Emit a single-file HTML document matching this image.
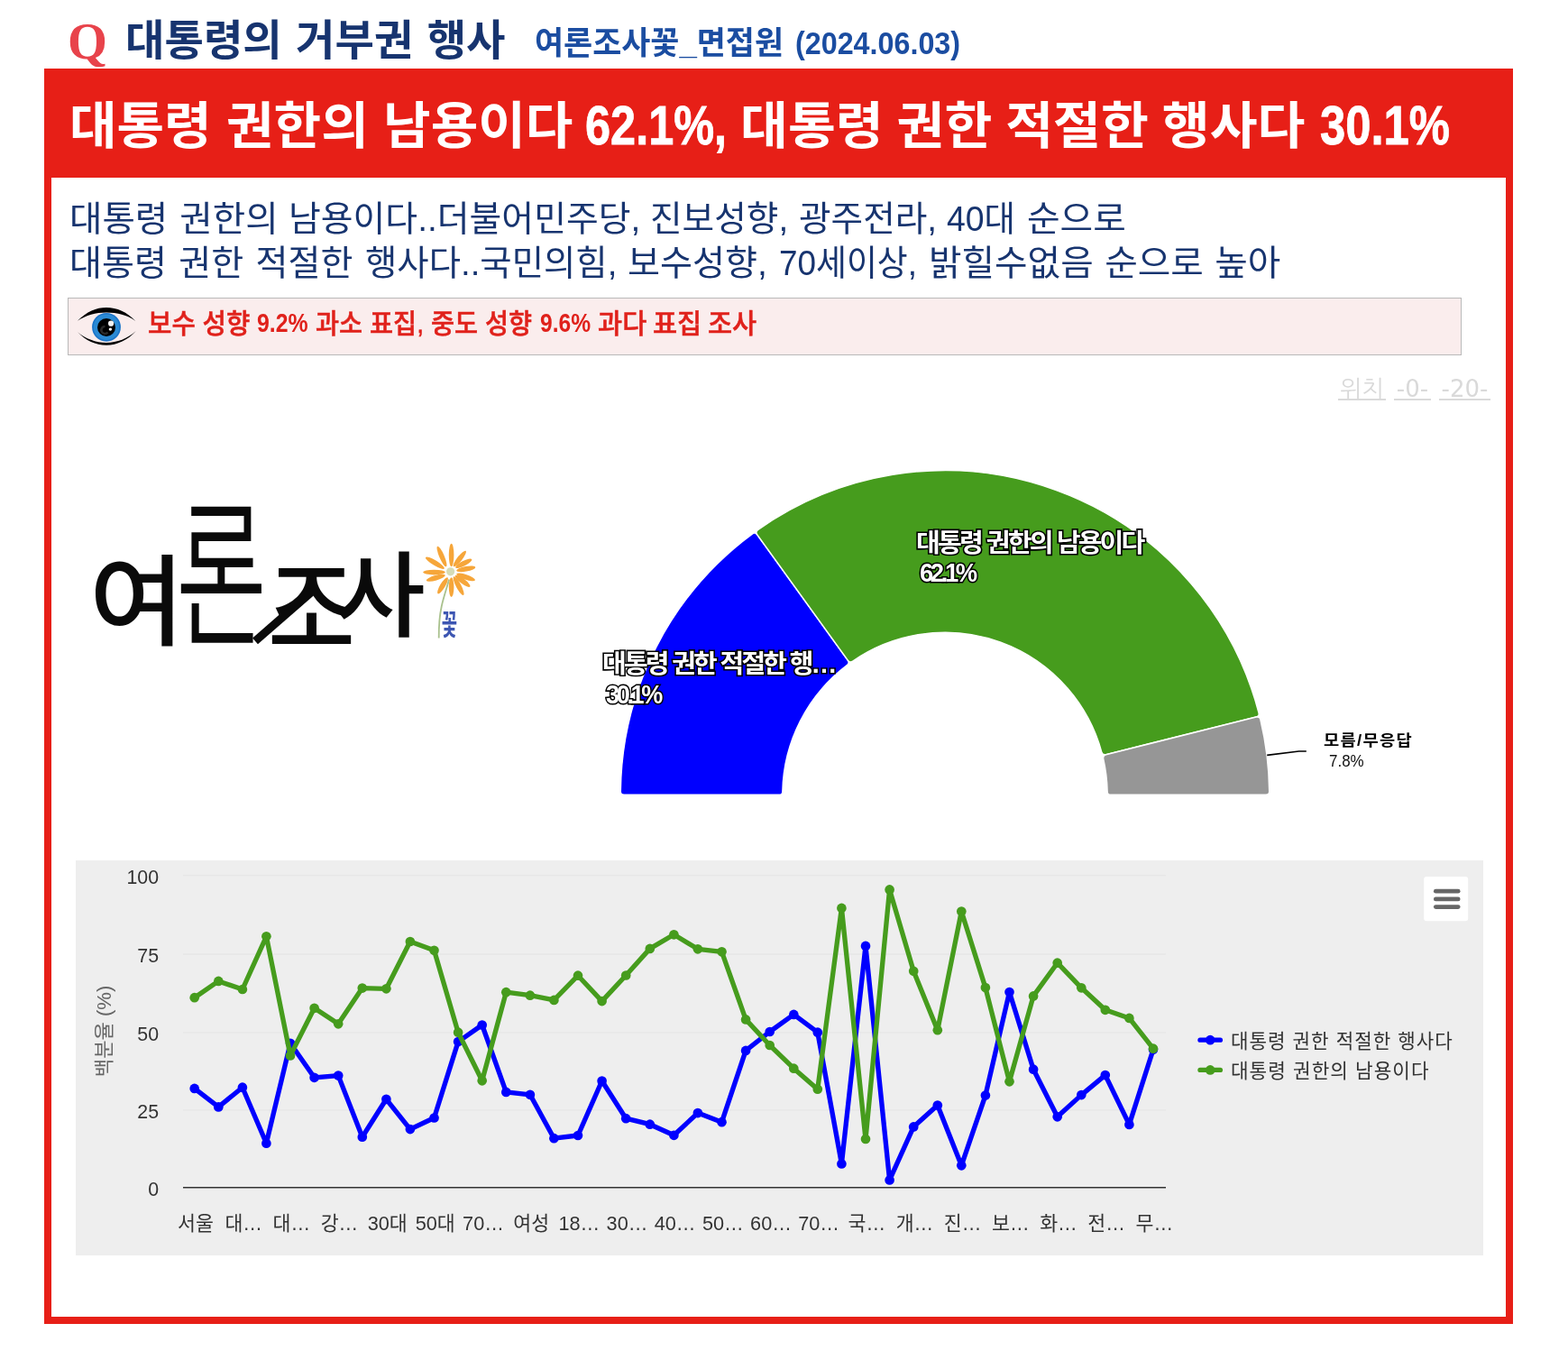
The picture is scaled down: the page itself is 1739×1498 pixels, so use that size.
<!DOCTYPE html>
<html lang="ko">
<head>
<meta charset="utf-8">
<title>대통령의 거부권 행사</title>
<style>
html,body{margin:0;padding:0;background:#fff;}
h1,h2,p,small{margin:0;padding:0;font-size:inherit;font-weight:inherit;}
body{width:1739px;height:1498px;position:relative;overflow:hidden;font-family:"Liberation Sans","Noto Sans CJK KR",sans-serif;}
.t{position:absolute;white-space:nowrap;line-height:1;transform-origin:0 0;display:block;margin:0;}
#box{position:absolute;left:49px;top:76px;width:1613px;height:1376px;border:8px solid #e71f17;background:#fff;}
#head{position:absolute;left:49px;top:76px;width:1629px;height:121px;background:#e71f17;}
#notice{position:absolute;left:75px;top:330px;width:1544px;height:62px;border:1px solid #b9b9b9;background:#faeded;}
.pos{position:absolute;top:414px;height:28px;border-bottom:2px solid #dadada;color:#d9d9d9;font:26px "DejaVu Sans","NanumGothic",sans-serif;line-height:35px;text-align:center;white-space:nowrap;text-decoration:none;}
svg{position:absolute;left:0;top:0;}
.ax{font:21.33px "Liberation Sans","Noto Sans CJK KR",sans-serif;fill:#333;}
.axx{font:21.7px "Liberation Sans","Noto Sans CJK KR",sans-serif;fill:#333;}
.ayt{font:21.7px "Liberation Sans","Noto Sans CJK KR",sans-serif;fill:#666;}
#q{left:75.01px;top:17.00px;font-size:57.50px;font-weight:700;color:#e8434b;font-family:"Liberation Serif",serif;transform:scaleX(0.9829);}
#t1{left:139.23px;top:22.19px;font-size:46.28px;font-weight:700;color:#17346f;transform:scaleX(1.0208);word-spacing:2.09px;}
#s1{left:593.07px;top:31.00px;font-size:35.75px;font-weight:700;color:#1b4da1;transform:scaleX(0.9753);}
#s2{left:882.48px;top:30.70px;font-size:35.60px;font-weight:700;color:#1b4da1;transform:scaleX(0.9074);}
#h1{left:76.69px;top:112.60px;font-size:55.74px;font-weight:700;color:#fff;transform:scaleX(1.0250);word-spacing:0.50px;}
#h2{left:649.34px;top:109.47px;font-size:61.00px;font-weight:700;color:#fff;transform:scaleX(0.8273);-webkit-text-stroke:0.8px #fff;}
#h3{left:821.06px;top:112.60px;font-size:55.74px;font-weight:700;color:#fff;transform:scaleX(1.0315);word-spacing:-1.05px;}
#h4{left:1464.00px;top:108.47px;font-size:61.55px;font-weight:700;color:#fff;transform:scaleX(0.8254);-webkit-text-stroke:0.8px #fff;}
#d1a{left:76.82px;top:224.05px;font-size:38.25px;font-weight:400;color:#17346f;transform:scaleX(1.0354);word-spacing:1.96px;}
#d1b{left:319.79px;top:224.05px;font-size:38.25px;font-weight:400;color:#17346f;transform:scaleX(1.0170);}
#d1c{left:721.24px;top:224.05px;font-size:38.25px;font-weight:400;color:#17346f;transform:scaleX(1.0115);word-spacing:1.07px;}
#d1d{left:1049.95px;top:224.05px;font-size:38.25px;font-weight:400;color:#17346f;transform:scaleX(0.9779);}
#d1e{left:1138.67px;top:224.05px;font-size:38.25px;font-weight:400;color:#17346f;transform:scaleX(1.0399);}
#d2a{left:76.98px;top:272.65px;font-size:38.25px;font-weight:400;color:#17346f;transform:scaleX(1.0225);word-spacing:2.39px;}
#d2b{left:405.27px;top:272.65px;font-size:38.25px;font-weight:400;color:#17346f;transform:scaleX(1.0041);}
#d2c{left:695.65px;top:272.65px;font-size:38.25px;font-weight:400;color:#17346f;transform:scaleX(1.0233);}
#d2d{left:864.11px;top:272.65px;font-size:38.25px;font-weight:400;color:#17346f;transform:scaleX(0.9638);}
#d2e{left:1029.81px;top:272.65px;font-size:38.25px;font-weight:400;color:#17346f;transform:scaleX(1.0383);word-spacing:1.40px;}
#n1{left:164.05px;top:343.90px;font-size:29.94px;font-weight:500;color:#e0211b;transform:scaleX(0.9600);word-spacing:-0.28px;-webkit-text-stroke:0.5px #e0211b;}
#n2{left:285.01px;top:344.30px;font-size:28.59px;font-weight:700;color:#e0211b;transform:scaleX(0.8698);}
#n3{left:350.47px;top:343.90px;font-size:29.94px;font-weight:500;color:#e0211b;transform:scaleX(0.9475);word-spacing:-0.08px;-webkit-text-stroke:0.5px #e0211b;}
#n4{left:598.63px;top:344.30px;font-size:28.59px;font-weight:700;color:#e0211b;transform:scaleX(0.8605);}
#n5{left:663.29px;top:343.90px;font-size:29.94px;font-weight:500;color:#e0211b;transform:scaleX(0.9849);word-spacing:-1.52px;-webkit-text-stroke:0.5px #e0211b;}
#g1{left:1016.18px;top:588.75px;font-size:28.09px;font-weight:700;color:#fff;transform:scaleX(1.0370);word-spacing:0.55px;letter-spacing:-2.70px;-webkit-text-stroke:3.2px #000;paint-order:stroke fill;}
#g2{left:1019.90px;top:620.60px;font-size:29.15px;font-weight:700;color:#fff;transform:scaleX(0.9403);letter-spacing:-3.60px;-webkit-text-stroke:3.2px #000;paint-order:stroke fill;}
#b1{left:668.15px;top:723.45px;font-size:28.09px;font-weight:700;color:#fff;transform:scaleX(1.0340);word-spacing:0.17px;letter-spacing:-2.70px;-webkit-text-stroke:3.2px #000;paint-order:stroke fill;}
#b2{left:671.82px;top:755.80px;font-size:29.15px;font-weight:700;color:#fff;transform:scaleX(0.9280);letter-spacing:-3.60px;-webkit-text-stroke:3.2px #000;paint-order:stroke fill;}
#lg1{left:1365.44px;top:1144.65px;font-size:21.42px;font-weight:400;color:#333;transform:scaleX(0.9912);word-spacing:0.18px;letter-spacing:1.00px;}
#lg2{left:1365.46px;top:1177.75px;font-size:21.42px;font-weight:400;color:#333;transform:scaleX(0.9954);word-spacing:0.34px;letter-spacing:1.00px;}
#ol{left:1467.65px;top:812.80px;font-size:17.45px;font-weight:700;color:#000;transform:scaleX(1.0735);letter-spacing:1.20px;}
#ov{left:1473.63px;top:834.80px;font-size:18.60px;font-weight:400;color:#111;transform:scaleX(0.9128);}
</style>
</head>
<body>
<header>
<h1><span id="q" class="t">Q</span> <span id="t1" class="t">대통령의 거부권 행사</span> <small><span id="s1" class="t">여론조사꽃_면접원</span> <span id="s2" class="t">(2024.06.03)</span></small></h1>
</header>
<main>
<div id="box"></div>
<div id="head"></div>
<h2><span id="h1" class="t">대통령 권한의 남용이다</span> <span id="h2" class="t">62.1%,</span> <span id="h3" class="t">대통령 권한 적절한 행사다</span> <span id="h4" class="t">30.1%</span></h2>
<p><span id="d1a" class="t">대통령 권한의</span> <span id="d1b" class="t">남용이다..더불어민주당,</span> <span id="d1c" class="t">진보성향, 광주전라,</span> <span id="d1d" class="t">40대</span> <span id="d1e" class="t">순으로</span></p>
<p><span id="d2a" class="t">대통령 권한 적절한</span> <span id="d2b" class="t">행사다..국민의힘,</span> <span id="d2c" class="t">보수성향,</span> <span id="d2d" class="t">70세이상,</span> <span id="d2e" class="t">밝힐수없음 순으로 높아</span></p>
<div id="notice"></div>
<p><span id="n1" class="t">보수 성향</span> <span id="n2" class="t">9.2%</span> <span id="n3" class="t">과소 표집, 중도 성향</span> <span id="n4" class="t">9.6%</span> <span id="n5" class="t">과다 표집 조사</span></p>
<nav><a class="pos" style="left:1484px;width:53px">위치</a> <a class="pos" style="left:1546px;width:41px">-0-</a> <a class="pos" style="left:1596px;width:57px">-20-</a></nav>
<svg width="1739" height="1498" viewBox="0 0 1739 1498">

<g>
<path d="M86,355.8 C96,345.5 107,341 118,341 C129.5,341 141,346 150.3,356 C141,349.2 130,346.6 118,346.6 C106,346.6 95.5,349.6 86,355.8 Z" fill="#000"/>
<path d="M86.2,368.2 C95,377.5 106,382.7 118,382.7 C130,382.7 142,377 150.8,367 C141.5,375.5 130,379.9 118,379.9 C106,379.9 95,375.6 86.2,368.2 Z" fill="#000"/>
<circle cx="118" cy="362.8" r="15.9" fill="#1b74c9"/>
<circle cx="118" cy="362.8" r="14.2" fill="#2b8ad4"/>
<circle cx="118" cy="363" r="10" fill="#000"/>
<path d="M119.5,368.5 a4,4 0 1 1 -3,-6.5" fill="none" stroke="#2a2a2a" stroke-width="2.6"/>
<circle cx="123.1" cy="358.7" r="3.1" fill="#f2f2f2"/>
<circle cx="122.4" cy="365.1" r="1.7" fill="#fff"/>
</g>

<g id="logo">
<text transform="translate(99.12,707.32) scale(1.1481,1.1072)" font-family='"Noto Sans CJK KR",sans-serif' font-weight="500" font-size="100" fill="#0a0a0a">여</text><text transform="translate(195.28,701.26) scale(1.0916,1.7463)" font-family='"Noto Sans CJK KR",sans-serif' font-weight="350" font-size="100" fill="#0a0a0a">론</text><text transform="translate(297.10,717.40) scale(1.0548,1.1493)" font-family='"Noto Sans CJK KR",sans-serif' font-weight="500" font-size="100" fill="#0a0a0a">조</text><text transform="translate(371.29,697.57) scale(1.0947,1.0379)" font-family='"Noto Sans CJK KR",sans-serif' font-weight="500" font-size="100" fill="#0a0a0a">사</text>
<line x1="283" y1="710.9" x2="346.5" y2="655.5" stroke="#0a0a0a" stroke-width="9"/>
<path d="M498.1,642.6 C495.5,652 492,662 489.8,672 C487.6,682 486.6,694 486.7,707.5" fill="none" stroke="#a9c18d" stroke-width="1.8"/>
<ellipse cx="500.6" cy="615.5" rx="12.8" ry="2.8" transform="rotate(-90.0 500.6 615.5)" fill="#f6a63a"/>
<ellipse cx="490.0" cy="617.0" rx="12.2" ry="2.8" transform="rotate(-113.2 490.0 617.0)" fill="#f6a63a"/>
<ellipse cx="482.4" cy="624.2" rx="12.1" ry="2.8" transform="rotate(-148.6 482.4 624.2)" fill="#f6a63a"/>
<ellipse cx="481.5" cy="634.6" rx="12.3" ry="2.8" transform="rotate(180.0 481.5 634.6)" fill="#f6a63a"/>
<ellipse cx="483.3" cy="640.8" rx="10.9" ry="2.8" transform="rotate(164.2 483.3 640.8)" fill="#f6a63a"/>
<ellipse cx="491.0" cy="649.3" rx="10.5" ry="2.8" transform="rotate(121.2 491.0 649.3)" fill="#f6a63a"/>
<ellipse cx="500.6" cy="651.1" rx="10.8" ry="2.8" transform="rotate(90.0 500.6 651.1)" fill="#f6a63a"/>
<ellipse cx="508.6" cy="649.6" rx="11.6" ry="2.8" transform="rotate(62.2 508.6 649.6)" fill="#f6a63a"/>
<ellipse cx="513.1" cy="644.3" rx="10.3" ry="2.8" transform="rotate(37.5 513.1 644.3)" fill="#f6a63a"/>
<ellipse cx="516.6" cy="639.8" rx="10.9" ry="2.8" transform="rotate(18.9 516.6 639.8)" fill="#f6a63a"/>
<ellipse cx="516.8" cy="630.8" rx="10.7" ry="2.8" transform="rotate(-10.2 516.8 630.8)" fill="#f6a63a"/>
<ellipse cx="514.3" cy="624.8" rx="10.1" ry="2.8" transform="rotate(-27.3 514.3 624.8)" fill="#f6a63a"/>
<ellipse cx="509.8" cy="619.5" rx="11.0" ry="2.8" transform="rotate(-52.0 509.8 619.5)" fill="#f6a63a"/>
<circle cx="499.6" cy="633.8" r="4.6" fill="#d6dcb6"/>
<text transform="translate(489.71,704.05) scale(0.1885,0.3145)" font-family='"Noto Sans CJK KR",sans-serif' font-weight="700" font-size="100" fill="#3d56b2">꽃</text>
</g>
<path d="M688.22,877.40 A359.80,359.80 0 0 1 834.20,592.01 Q837.43,589.65 839.77,592.90 L940.26,732.12 Q942.60,735.36 939.38,737.74 A180.10,180.10 0 0 0 867.94,877.40 Q867.90,881.40 863.90,881.40 L692.20,881.40 Q688.20,881.40 688.22,877.40 Z" fill="#0000ff" stroke="#ffffff" stroke-width="1.6" stroke-linejoin="round"/>
<path d="M840.69,587.33 A359.80,359.80 0 0 1 1396.06,790.24 Q1397.05,794.11 1393.17,795.08 L1226.60,836.74 Q1222.72,837.71 1221.71,833.84 A180.10,180.10 0 0 0 945.87,733.06 Q942.60,735.36 940.26,732.12 L839.77,592.90 Q837.43,589.65 840.69,587.33 Z" fill="#469c1d" stroke="#ffffff" stroke-width="1.6" stroke-linejoin="round"/>
<path d="M1398.00,798.00 A359.80,359.80 0 0 1 1407.78,877.40 Q1407.80,881.40 1403.80,881.40 L1232.10,881.40 Q1228.10,881.40 1228.06,877.40 A180.10,180.10 0 0 0 1223.65,841.60 Q1222.72,837.71 1226.60,836.74 L1393.17,795.08 Q1397.05,794.11 1398.00,798.00 Z" fill="#969696" stroke="#ffffff" stroke-width="1.6" stroke-linejoin="round"/>
<path d="M1405.2,837.4 L1440.6,833 L1448.8,833" fill="none" stroke="#000" stroke-width="1.7"/>
<rect x="84" y="954" width="1561" height="438" fill="#eeeeee"/>
<line x1="203" x2="1293" y1="1230.9" y2="1230.9" stroke="#e6e6e6" stroke-width="1.33"/>
<line x1="203" x2="1293" y1="1144.9" y2="1144.9" stroke="#e6e6e6" stroke-width="1.33"/>
<line x1="203" x2="1293" y1="1058.0" y2="1058.0" stroke="#e6e6e6" stroke-width="1.33"/>
<line x1="203" x2="1293" y1="970.6" y2="970.6" stroke="#e6e6e6" stroke-width="1.33"/>
<line x1="203" x2="1293" y1="1316.8" y2="1316.8" stroke="#333333" stroke-width="1.6"/>
<polyline points="215.7,1206.9 242.3,1227.4 268.9,1205.7 295.4,1267.7 322.0,1156.8 348.6,1194.8 375.2,1192.6 401.8,1260.7 428.4,1218.8 454.9,1252.1 481.5,1239.5 508.1,1155.1 534.7,1136.5 561.3,1210.9 587.9,1213.8 614.4,1262.2 641.0,1259.0 667.6,1198.5 694.2,1240.2 720.8,1246.7 747.4,1258.8 773.9,1234.1 800.5,1244.2 827.1,1164.9 853.7,1144.0 880.3,1124.9 906.8,1144.7 933.4,1290.4 960.0,1048.9 986.6,1308.4 1013.2,1249.4 1039.8,1225.6 1066.3,1292.3 1092.9,1214.6 1119.5,1100.0 1146.1,1185.7 1172.7,1238.3 1199.3,1214.1 1225.8,1192.1 1252.4,1246.9 1279.0,1163.7" fill="none" stroke="#0000ff" stroke-width="5.33" stroke-linejoin="round" stroke-linecap="round"/>
<circle cx="215.7" cy="1206.9" r="5.33" fill="#0000ff"/><circle cx="242.3" cy="1227.4" r="5.33" fill="#0000ff"/><circle cx="268.9" cy="1205.7" r="5.33" fill="#0000ff"/><circle cx="295.4" cy="1267.7" r="5.33" fill="#0000ff"/><circle cx="322.0" cy="1156.8" r="5.33" fill="#0000ff"/><circle cx="348.6" cy="1194.8" r="5.33" fill="#0000ff"/><circle cx="375.2" cy="1192.6" r="5.33" fill="#0000ff"/><circle cx="401.8" cy="1260.7" r="5.33" fill="#0000ff"/><circle cx="428.4" cy="1218.8" r="5.33" fill="#0000ff"/><circle cx="454.9" cy="1252.1" r="5.33" fill="#0000ff"/><circle cx="481.5" cy="1239.5" r="5.33" fill="#0000ff"/><circle cx="508.1" cy="1155.1" r="5.33" fill="#0000ff"/><circle cx="534.7" cy="1136.5" r="5.33" fill="#0000ff"/><circle cx="561.3" cy="1210.9" r="5.33" fill="#0000ff"/><circle cx="587.9" cy="1213.8" r="5.33" fill="#0000ff"/><circle cx="614.4" cy="1262.2" r="5.33" fill="#0000ff"/><circle cx="641.0" cy="1259.0" r="5.33" fill="#0000ff"/><circle cx="667.6" cy="1198.5" r="5.33" fill="#0000ff"/><circle cx="694.2" cy="1240.2" r="5.33" fill="#0000ff"/><circle cx="720.8" cy="1246.7" r="5.33" fill="#0000ff"/><circle cx="747.4" cy="1258.8" r="5.33" fill="#0000ff"/><circle cx="773.9" cy="1234.1" r="5.33" fill="#0000ff"/><circle cx="800.5" cy="1244.2" r="5.33" fill="#0000ff"/><circle cx="827.1" cy="1164.9" r="5.33" fill="#0000ff"/><circle cx="853.7" cy="1144.0" r="5.33" fill="#0000ff"/><circle cx="880.3" cy="1124.9" r="5.33" fill="#0000ff"/><circle cx="906.8" cy="1144.7" r="5.33" fill="#0000ff"/><circle cx="933.4" cy="1290.4" r="5.33" fill="#0000ff"/><circle cx="960.0" cy="1048.9" r="5.33" fill="#0000ff"/><circle cx="986.6" cy="1308.4" r="5.33" fill="#0000ff"/><circle cx="1013.2" cy="1249.4" r="5.33" fill="#0000ff"/><circle cx="1039.8" cy="1225.6" r="5.33" fill="#0000ff"/><circle cx="1066.3" cy="1292.3" r="5.33" fill="#0000ff"/><circle cx="1092.9" cy="1214.6" r="5.33" fill="#0000ff"/><circle cx="1119.5" cy="1100.0" r="5.33" fill="#0000ff"/><circle cx="1146.1" cy="1185.7" r="5.33" fill="#0000ff"/><circle cx="1172.7" cy="1238.3" r="5.33" fill="#0000ff"/><circle cx="1199.3" cy="1214.1" r="5.33" fill="#0000ff"/><circle cx="1225.8" cy="1192.1" r="5.33" fill="#0000ff"/><circle cx="1252.4" cy="1246.9" r="5.33" fill="#0000ff"/><circle cx="1279.0" cy="1163.7" r="5.33" fill="#0000ff"/>

<polyline points="215.7,1106.2 242.3,1087.9 268.9,1097.0 295.4,1038.3 322.0,1170.4 348.6,1117.8 375.2,1135.3 401.8,1095.6 428.4,1096.3 454.9,1044.0 481.5,1053.8 508.1,1144.7 534.7,1198.3 561.3,1100.2 587.9,1103.7 614.4,1108.9 641.0,1081.7 667.6,1110.1 694.2,1081.5 720.8,1051.9 747.4,1036.3 773.9,1052.3 800.5,1055.3 827.1,1130.4 853.7,1159.0 880.3,1184.7 906.8,1207.7 933.4,1006.9 960.0,1263.0 986.6,986.4 1013.2,1076.8 1039.8,1142.2 1066.3,1010.6 1092.9,1095.1 1119.5,1199.3 1146.1,1104.4 1172.7,1067.7 1199.3,1095.3 1225.8,1119.8 1252.4,1128.9 1279.0,1162.7" fill="none" stroke="#469c1d" stroke-width="5.33" stroke-linejoin="round" stroke-linecap="round"/>
<circle cx="215.7" cy="1106.2" r="5.33" fill="#469c1d"/><circle cx="242.3" cy="1087.9" r="5.33" fill="#469c1d"/><circle cx="268.9" cy="1097.0" r="5.33" fill="#469c1d"/><circle cx="295.4" cy="1038.3" r="5.33" fill="#469c1d"/><circle cx="322.0" cy="1170.4" r="5.33" fill="#469c1d"/><circle cx="348.6" cy="1117.8" r="5.33" fill="#469c1d"/><circle cx="375.2" cy="1135.3" r="5.33" fill="#469c1d"/><circle cx="401.8" cy="1095.6" r="5.33" fill="#469c1d"/><circle cx="428.4" cy="1096.3" r="5.33" fill="#469c1d"/><circle cx="454.9" cy="1044.0" r="5.33" fill="#469c1d"/><circle cx="481.5" cy="1053.8" r="5.33" fill="#469c1d"/><circle cx="508.1" cy="1144.7" r="5.33" fill="#469c1d"/><circle cx="534.7" cy="1198.3" r="5.33" fill="#469c1d"/><circle cx="561.3" cy="1100.2" r="5.33" fill="#469c1d"/><circle cx="587.9" cy="1103.7" r="5.33" fill="#469c1d"/><circle cx="614.4" cy="1108.9" r="5.33" fill="#469c1d"/><circle cx="641.0" cy="1081.7" r="5.33" fill="#469c1d"/><circle cx="667.6" cy="1110.1" r="5.33" fill="#469c1d"/><circle cx="694.2" cy="1081.5" r="5.33" fill="#469c1d"/><circle cx="720.8" cy="1051.9" r="5.33" fill="#469c1d"/><circle cx="747.4" cy="1036.3" r="5.33" fill="#469c1d"/><circle cx="773.9" cy="1052.3" r="5.33" fill="#469c1d"/><circle cx="800.5" cy="1055.3" r="5.33" fill="#469c1d"/><circle cx="827.1" cy="1130.4" r="5.33" fill="#469c1d"/><circle cx="853.7" cy="1159.0" r="5.33" fill="#469c1d"/><circle cx="880.3" cy="1184.7" r="5.33" fill="#469c1d"/><circle cx="906.8" cy="1207.7" r="5.33" fill="#469c1d"/><circle cx="933.4" cy="1006.9" r="5.33" fill="#469c1d"/><circle cx="960.0" cy="1263.0" r="5.33" fill="#469c1d"/><circle cx="986.6" cy="986.4" r="5.33" fill="#469c1d"/><circle cx="1013.2" cy="1076.8" r="5.33" fill="#469c1d"/><circle cx="1039.8" cy="1142.2" r="5.33" fill="#469c1d"/><circle cx="1066.3" cy="1010.6" r="5.33" fill="#469c1d"/><circle cx="1092.9" cy="1095.1" r="5.33" fill="#469c1d"/><circle cx="1119.5" cy="1199.3" r="5.33" fill="#469c1d"/><circle cx="1146.1" cy="1104.4" r="5.33" fill="#469c1d"/><circle cx="1172.7" cy="1067.7" r="5.33" fill="#469c1d"/><circle cx="1199.3" cy="1095.3" r="5.33" fill="#469c1d"/><circle cx="1225.8" cy="1119.8" r="5.33" fill="#469c1d"/><circle cx="1252.4" cy="1128.9" r="5.33" fill="#469c1d"/><circle cx="1279.0" cy="1162.7" r="5.33" fill="#469c1d"/>

<text x="176" y="1326.0" text-anchor="end" class="ax">0</text>
<text x="176" y="1240.1" text-anchor="end" class="ax">25</text>
<text x="176" y="1154.1" text-anchor="end" class="ax">50</text>
<text x="176" y="1067.2" text-anchor="end" class="ax">75</text>
<text x="176" y="979.8" text-anchor="end" class="ax">100</text>
<text x="217.0" y="1364" text-anchor="middle" class="axx">서울</text>
<text x="270.2" y="1364" text-anchor="middle" class="axx">대…</text>
<text x="323.3" y="1364" text-anchor="middle" class="axx">대…</text>
<text x="376.5" y="1364" text-anchor="middle" class="axx">강…</text>
<text x="429.7" y="1364" text-anchor="middle" class="axx">30대</text>
<text x="482.8" y="1364" text-anchor="middle" class="axx">50대</text>
<text x="536.0" y="1364" text-anchor="middle" class="axx">70…</text>
<text x="589.2" y="1364" text-anchor="middle" class="axx">여성</text>
<text x="642.3" y="1364" text-anchor="middle" class="axx">18…</text>
<text x="695.5" y="1364" text-anchor="middle" class="axx">30…</text>
<text x="748.6" y="1364" text-anchor="middle" class="axx">40…</text>
<text x="801.8" y="1364" text-anchor="middle" class="axx">50…</text>
<text x="855.0" y="1364" text-anchor="middle" class="axx">60…</text>
<text x="908.1" y="1364" text-anchor="middle" class="axx">70…</text>
<text x="961.3" y="1364" text-anchor="middle" class="axx">국…</text>
<text x="1014.5" y="1364" text-anchor="middle" class="axx">개…</text>
<text x="1067.6" y="1364" text-anchor="middle" class="axx">진…</text>
<text x="1120.8" y="1364" text-anchor="middle" class="axx">보…</text>
<text x="1174.0" y="1364" text-anchor="middle" class="axx">화…</text>
<text x="1227.1" y="1364" text-anchor="middle" class="axx">전…</text>
<text x="1280.3" y="1364" text-anchor="middle" class="axx">무…</text>
<text transform="translate(123.4,1143.4) rotate(-90) scale(1.02,1)" text-anchor="middle" class="ayt">백분율 (%)</text>
<line x1="1331" x2="1353.4" y1="1153.2" y2="1153.2" stroke="#0000ff" stroke-width="5.33" stroke-linecap="round"/><circle cx="1342.2" cy="1153.2" r="5.33" fill="#0000ff"/>
<line x1="1331" x2="1353.4" y1="1186.4" y2="1186.4" stroke="#469c1d" stroke-width="5.33" stroke-linecap="round"/><circle cx="1342.2" cy="1186.4" r="5.33" fill="#469c1d"/>
<rect x="1579.2" y="972" width="49" height="49.2" rx="3" fill="#ffffff"/>
<line x1="1592.3" x2="1617.2" y1="988.2" y2="988.2" stroke="#666666" stroke-width="4.7" stroke-linecap="round"/>
<line x1="1592.3" x2="1617.2" y1="996.9" y2="996.9" stroke="#666666" stroke-width="4.7" stroke-linecap="round"/>
<line x1="1592.3" x2="1617.2" y1="1005.6" y2="1005.6" stroke="#666666" stroke-width="4.7" stroke-linecap="round"/>
</svg>
<div class="labels"><span id="g1" class="t">대통령 권한의 남용이다</span> <span id="g2" class="t">62.1%</span> <span id="b1" class="t">대통령 권한 적절한 행…</span> <span id="b2" class="t">30.1%</span> <span id="ol" class="t">모름/무응답</span> <span id="ov" class="t">7.8%</span></div>
<div class="legend"><span id="lg1" class="t">대통령 권한 적절한 행사다</span> <span id="lg2" class="t">대통령 권한의 남용이다</span></div>
</main>
</body>
</html>
